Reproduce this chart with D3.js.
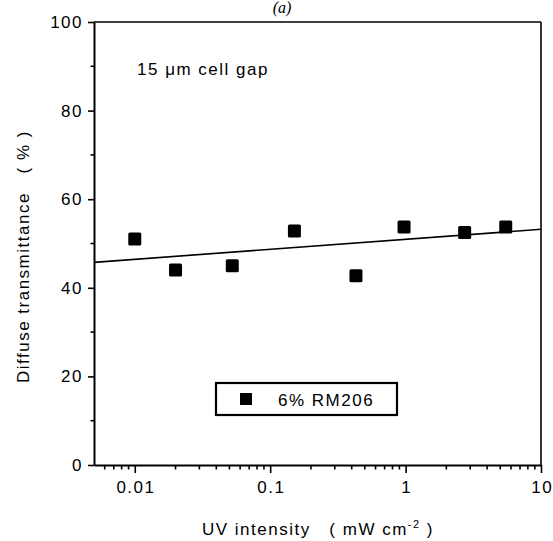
<!DOCTYPE html>
<html>
<head>
<meta charset="utf-8">
<script src="https://cdn.jsdelivr.net/npm/d3@7"></script>
<style>
  body { margin: 0; background: #fff; }
  svg text { font-family: "Liberation Sans", Arial, sans-serif; fill: #000; white-space: pre; }
</style>
</head>
<body>
<div class="chart"></div>
<script>
// UV intensity (mW cm^-2) and diffuse transmittance (%)
const uvIntensity = [0.01, 0.02, 0.0525, 0.151, 0.43, 0.974, 2.73, 5.49];
const transmittance = [51.0, 44.0, 45.0, 52.8, 42.7, 53.7, 52.5, 53.7];

// fitted line end points
const fitX = [0.005, 10];
const fitY = [45.75, 53.2];

const xDomain = [0.005, 10];
const yDomain = [0, 100];
const xMajorTicks = [0.01, 0.1, 1, 10];
const xTickLabels = ["0.01", "0.1", "1", "10"];
const yMajorTicks = [0, 20, 40, 60, 80, 100];
const yMinorTicks = [10, 30, 50, 70, 90];

const width = 553, height = 541;
const margin = { left: 94, right: 12, top: 22, bottom: 76 };

const svg = d3.select(".chart").append("svg")
  .attr("width", width)
  .attr("height", height);

const x = d3.scaleLog()
  .domain(xDomain)
  .range([margin.left, width - margin.right]);

const y = d3.scaleLinear()
  .domain(yDomain)
  .range([height - margin.bottom, margin.top]);

// minor x ticks, 2..9 of each decade inside the domain
const xMinorTicks = x.ticks().filter(t => !xMajorTicks.some(m => Math.abs(m - t) < 1e-9) && t > xDomain[0]);

const fontSize = 17;
const spacing = "1.5px";

// frame (top and right)
svg.append("line")
  .attr("x1", x.range()[0]).attr("x2", x.range()[1])
  .attr("y1", margin.top).attr("y2", margin.top)
  .attr("stroke", "black").attr("stroke-width", 1.6);
svg.append("line")
  .attr("x1", x.range()[1]).attr("x2", x.range()[1])
  .attr("y1", margin.top).attr("y2", y(0))
  .attr("stroke", "black").attr("stroke-width", 1.6);

// bottom axis
const xAxis = svg.append("g")
  .attr("transform", `translate(0,${y(0)})`)
  .call(d3.axisBottom(x).tickValues(xMajorTicks).tickFormat((d, i) => xTickLabels[i]).tickSize(8).tickSizeOuter(0));
xAxis.select(".domain").attr("stroke-width", 2);
xAxis.selectAll(".tick line").attr("stroke-width", 1.6);
xAxis.selectAll(".tick text")
  .attr("dy", "1.0em")
  .attr("dx", "0.7px")
  .style("font-size", fontSize + "px")
  .style("letter-spacing", spacing)
  .style("font-family", "Liberation Sans, Arial, sans-serif");

svg.append("g")
  .selectAll("line")
  .data(xMinorTicks)
  .join("line")
  .attr("x1", d => x(d)).attr("x2", d => x(d))
  .attr("y1", y(0)).attr("y2", y(0) + 4.5)
  .attr("stroke", "black").attr("stroke-width", 1.6);

// left axis
const yAxis = svg.append("g")
  .attr("transform", `translate(${margin.left},0)`)
  .call(d3.axisLeft(y).tickValues(yMajorTicks).tickSize(6).tickSizeOuter(0).tickPadding(5));
yAxis.select(".domain").attr("stroke-width", 2);
yAxis.selectAll(".tick line").attr("stroke-width", 1.6);
yAxis.selectAll(".tick text")
  .style("font-size", fontSize + "px")
  .style("letter-spacing", spacing)
  .style("font-family", "Liberation Sans, Arial, sans-serif");

svg.append("g")
  .selectAll("line")
  .data(yMinorTicks)
  .join("line")
  .attr("x1", margin.left - 3.5).attr("x2", margin.left)
  .attr("y1", d => y(d)).attr("y2", d => y(d))
  .attr("stroke", "black").attr("stroke-width", 1.6);

// fit line
const line = d3.line()
  .x(d => x(d[0]))
  .y(d => y(d[1]));
svg.append("path")
  .datum(fitX.map((v, i) => [v, fitY[i]]))
  .attr("d", line)
  .attr("fill", "none")
  .attr("stroke", "black")
  .attr("stroke-width", 1.6);

// data squares
const sq = 13;
svg.append("g")
  .selectAll("rect")
  .data(uvIntensity.map((v, i) => [v, transmittance[i]]))
  .join("rect")
  .attr("x", d => x(d[0]) - sq / 2)
  .attr("y", d => y(d[1]) - sq / 2)
  .attr("width", sq).attr("height", sq)
  .attr("rx", 1.5)
  .attr("fill", "black");

// legend
const legend = svg.append("g").attr("transform", "translate(216,383)");
legend.append("rect")
  .attr("width", 181).attr("height", 32)
  .attr("fill", "white")
  .attr("stroke", "black")
  .attr("stroke-width", 2.2);
legend.append("rect")
  .attr("x", 24).attr("y", 10).attr("width", 12).attr("height", 12)
  .attr("fill", "black");
legend.append("text")
  .attr("x", 62).attr("y", 22.5)
  .style("font-size", fontSize + "px")
  .style("letter-spacing", spacing)
  .text("6% RM206");

// annotation
svg.append("text")
  .attr("x", 137).attr("y", 75)
  .style("font-size", fontSize + "px")
  .style("letter-spacing", spacing)
  .text("15 \u03bcm cell gap");

// panel label
svg.append("text")
  .attr("x", 282).attr("y", 13)
  .attr("text-anchor", "middle")
  .style("font-family", "Liberation Serif, Times New Roman, serif")
  .style("font-style", "italic")
  .style("font-size", "16px")
  .text("(a)");

// axis titles
svg.append("text")
  .attr("transform", "translate(29,383) rotate(-90)")
  .style("font-size", fontSize + "px")
  .style("letter-spacing", spacing)
  .text("Diffuse transmittance   ( % )");

const xt = svg.append("text")
  .attr("x", 202).attr("y", 535)
  .style("font-size", fontSize + "px")
  .style("letter-spacing", spacing);
xt.append("tspan").text("UV intensity   ( mW cm");
xt.append("tspan").attr("dy", -7).style("font-size", "11px").text("-2");
xt.append("tspan").attr("dy", 7).text(" )");
</script>
</body>
</html>
